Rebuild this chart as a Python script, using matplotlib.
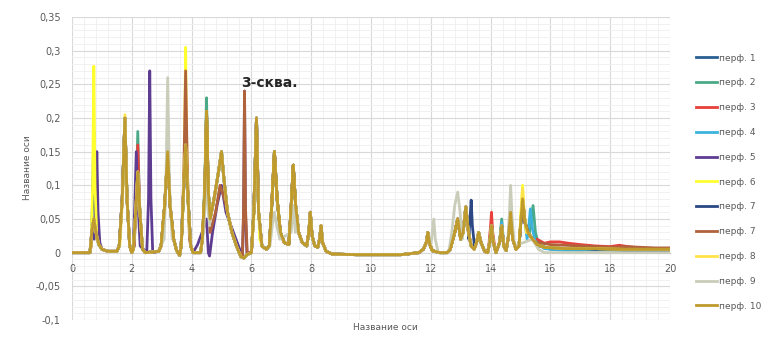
import matplotlib
matplotlib.use("Agg")
import matplotlib.pyplot as plt
from matplotlib.ticker import MultipleLocator, FuncFormatter

plt.rcParams['font.family'] = ['DejaVu Sans']

labels = ["перф. 1", "перф. 2", "перф. 3", "перф. 4", "перф. 5", "перф. 6",
          "перф. 7", "перф. 7", "перф. 8", "перф. 9", "перф. 10"]
colors = ["#2a5f94", "#4aaa88", "#e8403a", "#3cb2dc", "#5e3c92", "#ffff30",
          "#2b4784", "#b0623c", "#ffe34a", "#c9cdb9", "#bf9a2c"]

# Common profile (read from перф. 10, the curve on top); other series share it
# except where their own readings below differ.
base_x = [0, 0.6, 0.66, 0.73, 0.8, 0.9, 1.0, 1.2, 1.5, 1.58, 1.68, 1.77, 1.84, 1.93, 2.0,
          2.05, 2.13, 2.2, 2.27, 2.36, 2.45, 2.9, 2.98, 3.1, 3.2, 3.28, 3.4, 3.5, 3.6,
          3.65, 3.72, 3.8, 3.88, 3.97, 4.05, 4.3, 4.36, 4.44, 4.5, 4.56, 4.62, 4.75, 4.9,
          5.0, 5.08, 5.2, 5.35, 5.5, 5.65, 5.75, 5.85, 6.0, 6.08, 6.17, 6.24, 6.35, 6.5,
          6.6, 6.68, 6.77, 6.86, 6.97, 7.1, 7.25, 7.32, 7.4, 7.48, 7.58, 7.7, 7.85, 7.92,
          7.97, 8.03, 8.12, 8.22, 8.28, 8.33, 8.38, 8.5, 8.7, 9.5, 11.0, 11.6, 11.75,
          11.85, 11.9, 11.97, 12.05, 12.3, 12.55, 12.65, 12.8, 12.9, 13.0, 13.08, 13.17,
          13.26, 13.35, 13.45, 13.53, 13.6, 13.68, 13.8, 13.9, 13.97, 14.03, 14.09, 14.18,
          14.3, 14.37, 14.44, 14.52, 14.6, 14.67, 14.74, 14.85, 14.95, 15.0, 15.07, 15.15,
          15.25, 15.4, 15.55, 15.8, 16.5, 17.5, 18.5, 19.5, 20.0]
base_y = [0, 0, 0.03, 0.05, 0.03, 0.012, 0.005, 0.002, 0.002, 0.01, 0.08, 0.2, 0.08, 0.01, 0,
          0.005, 0.06, 0.12, 0.06, 0.005, 0, 0.002, 0.01, 0.07, 0.15, 0.07, 0.02, 0.003, -0.004,
          0.01, 0.08, 0.16, 0.08, 0.01, 0, 0, 0.02, 0.09, 0.21, 0.09, 0.05, 0.08, 0.12,
          0.15, 0.11, 0.06, 0.03, 0.01, -0.006, -0.008, -0.003, 0, 0.06, 0.2, 0.06, 0.01, 0.005,
          0.01, 0.07, 0.15, 0.08, 0.03, 0.015, 0.012, 0.06, 0.13, 0.07, 0.03, 0.015, 0.01, 0.03,
          0.06, 0.025, 0.01, 0.008, 0.02, 0.04, 0.015, 0.002, -0.002, -0.003, -0.003, 0, 0.005,
          0.015, 0.03, 0.012, 0.003, 0, 0, 0.005, 0.03, 0.05, 0.02, 0.03, 0.068,
          0.03, 0.01, 0.005, 0.015, 0.03, 0.015, 0.002, 0, 0.015, 0.04, 0.015, 0,
          0.015, 0.04, 0.01, 0.003, 0.025, 0.06, 0.02, 0.005, 0.01, 0.04, 0.08, 0.045,
          0.03, 0.02, 0.012, 0.008, 0.006, 0.006, 0.005, 0.005, 0.005]

# Series-specific readings
s1_x = [0.64, 0.69, 0.73, 0.77, 0.83,
        15.6, 16.0, 16.5, 17.0, 17.5, 18.0, 18.5, 19.0, 19.5, 20.0]
s1_y = [0.01, 0.08, 0.18, 0.07, 0.02,
        0.01, 0.006, 0.005, 0.004, 0.004, 0.004, 0.003, 0.003, 0.003, 0.003]

s2_x = [2.08, 2.15, 2.2, 2.25, 2.33, 4.38, 4.45, 4.5, 4.55, 4.62,
        14.3, 14.37, 14.44, 15.3, 15.36, 15.42, 15.5, 15.6, 16.0, 16.5, 17.0]
s2_y = [0.01, 0.09, 0.18, 0.08, 0.01, 0.03, 0.12, 0.23, 0.1, 0.05,
        0.015, 0.05, 0.01, 0.03, 0.05, 0.07, 0.03, 0.012, 0.005, 0.004, 0.004]

s3_x = [0.64, 0.7, 0.76, 0.82, 0.9, 2.08, 2.15, 2.2, 2.26, 2.33,
        13.95, 14.0, 14.03, 14.07, 14.15,
        15.55, 15.8, 16.0, 16.3, 16.6, 17.0, 17.5, 18.0, 18.3, 18.6, 19.0, 19.5, 20.0]
s3_y = [0.01, 0.04, 0.05, 0.03, 0.015, 0.01, 0.08, 0.16, 0.07, 0.01,
        0.015, 0.04, 0.06, 0.03, 0.005,
        0.02, 0.014, 0.016, 0.016, 0.014, 0.012, 0.01, 0.009, 0.011, 0.009, 0.007, 0.006, 0.004]

s4_x = [14.3, 14.37, 14.44, 15.22, 15.28, 15.33, 15.4, 15.5, 15.8, 16.3, 16.8]
s4_y = [0.015, 0.045, 0.01, 0.02, 0.04, 0.065, 0.035, 0.015, 0.006, 0.004, 0.004]

s5_x = [0.74, 0.79, 0.83, 0.87, 0.93, 2.05, 2.1, 2.15, 2.2, 2.28,
        2.5, 2.56, 2.6, 2.64, 2.7,
        4.05, 4.2, 4.35, 4.5, 4.56, 4.6, 4.7, 4.85, 5.0, 5.15,
        5.7, 5.74, 5.77, 5.8, 5.85]
s5_y = [0.02, 0.07, 0.15, 0.06, 0.015, 0.01, 0.07, 0.15, 0.08, 0.01,
        0.0, 0.08, 0.27, 0.08, 0.0,
        0.0, 0.012, 0.03, 0.05, 0.0, -0.005, 0.03, 0.07, 0.1, 0.06,
        -0.006, 0.06, 0.24, 0.06, 0.0]

s6_x = [0.64, 0.69, 0.73, 0.77, 0.83, 3.7, 3.76, 3.8, 3.84, 3.9,
        6.08, 6.13, 6.17, 6.21, 6.28, 14.98, 15.03, 15.07, 15.12, 15.2]
s6_y = [0.01, 0.1, 0.277, 0.1, 0.02, 0.05, 0.15, 0.305, 0.15, 0.05,
        0.05, 0.12, 0.2, 0.1, 0.02, 0.03, 0.07, 0.1, 0.06, 0.03]

s7_x = [13.27, 13.31, 13.35, 13.39, 13.46]
s7_y = [0.02, 0.05, 0.078, 0.04, 0.01]

s7b_x = [3.68, 3.74, 3.8, 3.86, 3.93, 4.62, 4.8, 4.95, 5.1,
         5.7, 5.74, 5.77, 5.8, 5.86,
         15.6, 16.0, 16.5, 17.0, 17.5, 18.0, 18.5, 19.0, 19.5, 20.0]
s7b_y = [0.03, 0.12, 0.27, 0.12, 0.02, 0.03, 0.06, 0.1, 0.08,
         -0.006, 0.07, 0.24, 0.07, 0.0,
         0.015, 0.012, 0.011, 0.01, 0.009, 0.008, 0.009, 0.008, 0.007, 0.007]

s8_x = [1.6, 1.7, 1.77, 1.84, 1.93, 14.98, 15.03, 15.07, 15.12, 15.2]
s8_y = [0.01, 0.09, 0.205, 0.08, 0.01, 0.03, 0.07, 0.095, 0.06, 0.03]

s9_x = [3.08, 3.14, 3.2, 3.26, 3.35, 4.42, 4.47, 4.5, 4.54, 4.6,
        6.62, 6.7, 6.77, 6.85, 6.95, 7.33, 7.4, 7.47,
        12.0, 12.05, 12.1, 12.15, 12.25, 12.6, 12.7, 12.8, 12.9, 12.98, 13.05,
        14.58, 14.63, 14.67, 14.72, 14.8,
        15.4, 15.6, 15.8, 16.3, 16.8, 17.3, 17.8, 18.3, 18.8, 19.3, 19.8, 20.0]
s9_y = [0.02, 0.1, 0.26, 0.1, 0.02, 0.04, 0.1, 0.15, 0.07, 0.04,
        0.01, 0.04, 0.06, 0.04, 0.02, 0.03, 0.07, 0.03,
        0.01, 0.03, 0.05, 0.02, 0.0, 0.0, 0.03, 0.07, 0.09, 0.06, 0.02,
        0.02, 0.06, 0.1, 0.05, 0.01,
        0.02, 0.005, 0.0, 0.0, 0.0, 0.0, 0.0, 0.0, 0.0, 0.0, 0.0, 0.0]

s10_x = []
s10_y = []

series_x = [s1_x, s2_x, s3_x, s4_x, s5_x, s6_x, s7_x, s7b_x, s8_x, s9_x, s10_x]
series_y = [s1_y, s2_y, s3_y, s4_y, s5_y, s6_y, s7_y, s7b_y, s8_y, s9_y, s10_y]


def merge(own_x, own_y):
    # groups of own readings; the common profile is used outside them
    groups = []
    for x in own_x:
        if groups and x - groups[-1][1] <= 0.6:
            groups[-1][1] = x
        else:
            groups.append([x, x])
    pts = list(zip(own_x, own_y))
    for bx, by in zip(base_x, base_y):
        if not any(g0 - 1e-9 <= bx <= g1 + 1e-9 for g0, g1 in groups):
            pts.append((bx, by))
    pts.sort()
    return [p[0] for p in pts], [p[1] for p in pts]


fig = plt.figure(figsize=(7.69, 3.38), dpi=100)
ax = fig.add_axes([72 / 769, 1 - 320 / 338, (670 - 72) / 769, (320 - 17) / 338])

for ox, oy, c, lab in zip(series_x, series_y, colors, labels):
    xs, ys = merge(ox, oy)
    ax.plot(xs, ys, color=c, lw=2.0, label=lab, solid_joinstyle='round')

ax.set_xlim(0, 20)
ax.set_ylim(-0.1, 0.35)
ax.xaxis.set_major_locator(MultipleLocator(2))
ax.xaxis.set_minor_locator(MultipleLocator(0.4))
ax.yaxis.set_major_locator(MultipleLocator(0.05))
ax.yaxis.set_minor_locator(MultipleLocator(0.01))
ax.grid(which='major', color='#d9d9d9', lw=0.8)
ax.grid(which='minor', color='#efefef', lw=0.6)
ax.set_axisbelow(True)

for s in ['top', 'right', 'left']:
    ax.spines[s].set_visible(False)
ax.spines['bottom'].set_position(('data', 0))
ax.spines['bottom'].set_color('#bfbfbf')
ax.spines['bottom'].set_zorder(0.5)


def fmt(v, pos):
    s = ('%.2f' % v).rstrip('0').rstrip('.')
    if s == '-0':
        s = '0'
    return s.replace('.', ',')


ax.yaxis.set_major_formatter(FuncFormatter(fmt))
ax.xaxis.set_major_formatter(FuncFormatter(lambda v, p: '%d' % v))
ax.tick_params(which='both', length=0, labelsize=7, labelcolor='#595959')
ax.tick_params(axis='y', pad=8)
ax.tick_params(axis='x', pad=8)

ax.text(5.65, 0.252, "3-сква.", fontsize=10, fontweight='bold', color='#262626',
        va='center', ha='left')

fig.text(28 / 769, 1 - 168 / 338, "Название оси", rotation=90, fontsize=6.5,
         color='#595959', ha='center', va='center')
fig.text(385 / 769, 1 - 327 / 338, "Название оси", fontsize=6.5,
         color='#595959', ha='center', va='center')

leg = fig.legend(loc='upper left', bbox_to_anchor=(692 / 769, 1 - 50 / 338),
                 frameon=False, fontsize=6.5, labelcolor='#595959',
                 handlelength=2.4, handletextpad=0.2, labelspacing=1.75,
                 borderaxespad=0)

fig.savefig("out.png", dpi=100)
